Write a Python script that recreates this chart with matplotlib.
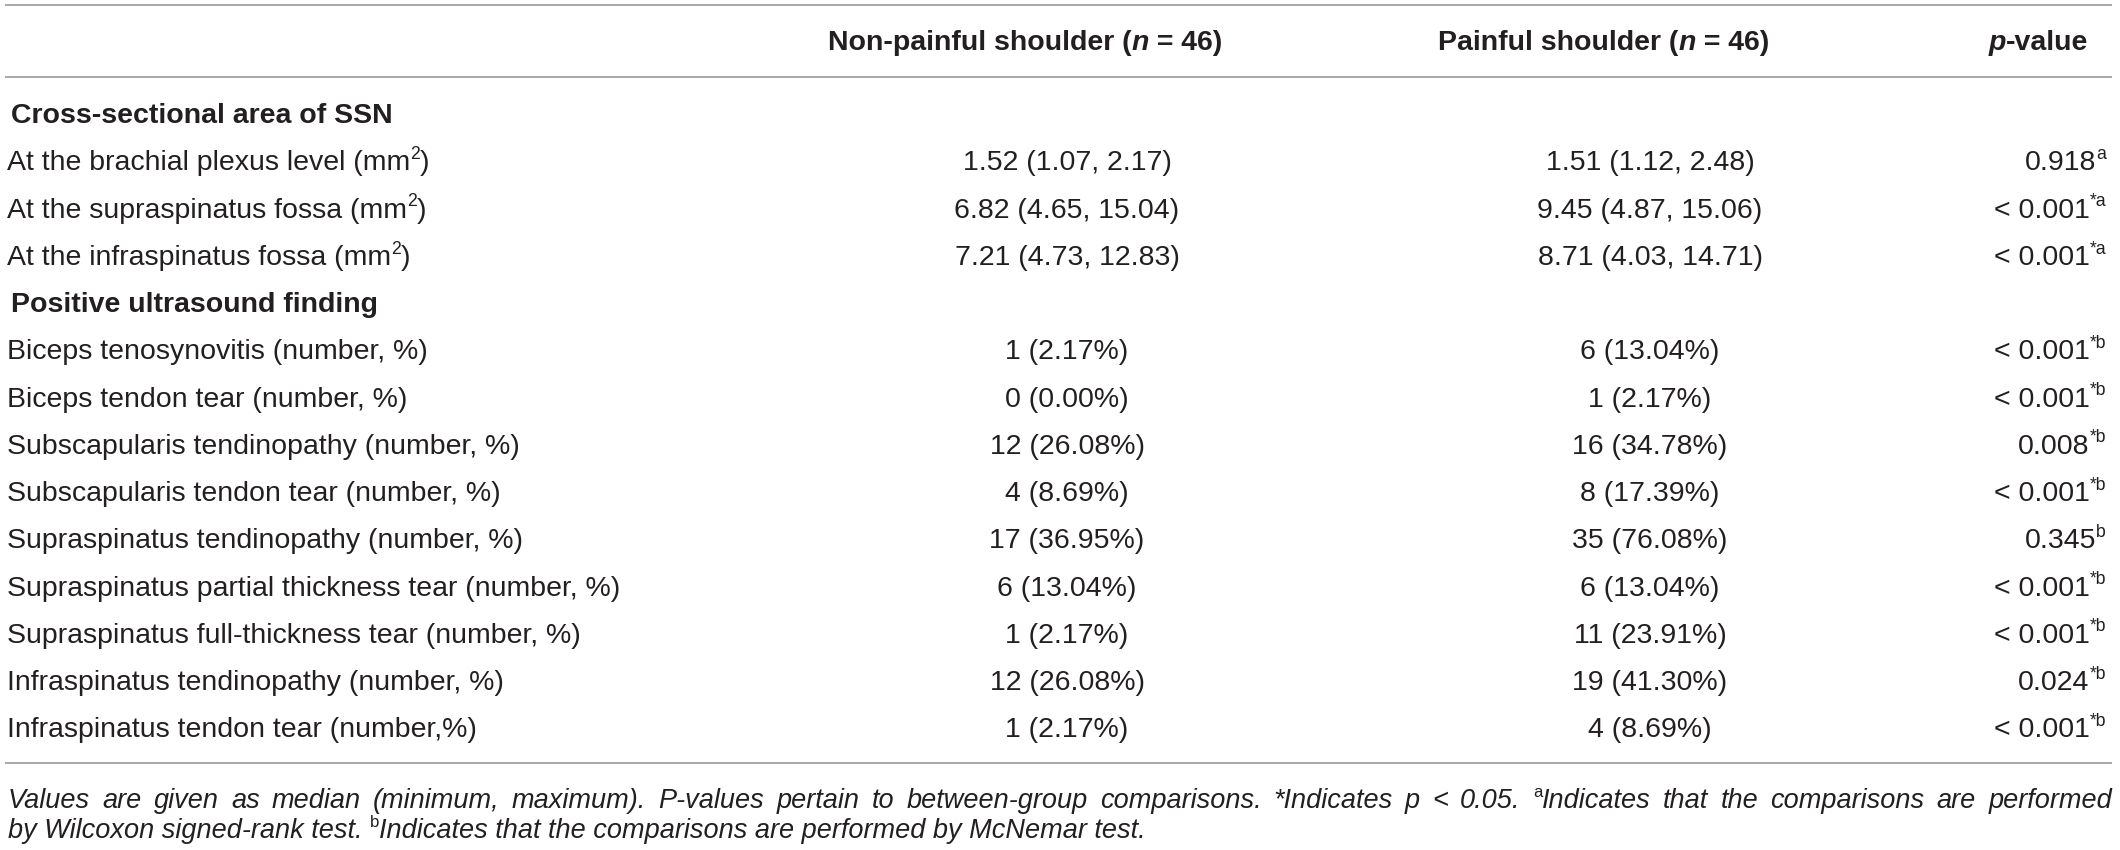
"""Table of ultrasound findings, drawn as text with matplotlib."""
import re

import matplotlib
matplotlib.use("Agg")
import matplotlib.pyplot as plt
from matplotlib import font_manager

# Column headers ({i:..} = italic, {s:..} = superscript)
headers = ["Non-painful shoulder ({i:n} = 46)", "Painful shoulder ({i:n} = 46)", "{i:p}-value"]

# Section 1: cross-sectional area, median (min, max)
section_titles = ["Cross-sectional area of SSN", "Positive ultrasound finding"]
csa_labels = [
    "At the brachial plexus level (mm{s:2})",
    "At the supraspinatus fossa (mm{s:2})",
    "At the infraspinatus fossa (mm{s:2})",
]
csa_non = [(1.52, 1.07, 2.17), (6.82, 4.65, 15.04), (7.21, 4.73, 12.83)]
csa_pain = [(1.51, 1.12, 2.48), (9.45, 4.87, 15.06), (8.71, 4.03, 14.71)]
csa_p = ["0.918{s:a}", "< 0.001{s:*a}", "< 0.001{s:*a}"]

# Section 2: positive findings, number (%)
finding_labels = [
    "Biceps tenosynovitis (number, %)",
    "Biceps tendon tear (number, %)",
    "Subscapularis tendinopathy (number, %)",
    "Subscapularis tendon tear (number, %)",
    "Supraspinatus tendinopathy (number, %)",
    "Supraspinatus partial thickness tear (number, %)",
    "Supraspinatus full-thickness tear (number, %)",
    "Infraspinatus tendinopathy (number, %)",
    "Infraspinatus tendon tear (number,%)",
]
non_counts = [1, 0, 12, 4, 17, 6, 1, 12, 1]
non_pct = [2.17, 0.00, 26.08, 8.69, 36.95, 13.04, 2.17, 26.08, 2.17]
pain_counts = [6, 1, 16, 8, 35, 6, 11, 19, 4]
pain_pct = [13.04, 2.17, 34.78, 17.39, 76.08, 13.04, 23.91, 41.30, 8.69]
finding_p = [
    "< 0.001{s:*b}", "< 0.001{s:*b}", "0.008{s:*b}", "< 0.001{s:*b}",
    "0.345{s:b}", "< 0.001{s:*b}", "< 0.001{s:*b}", "0.024{s:*b}",
    "< 0.001{s:*b}",
]

footnote_lines = [
    "Values are given as median (minimum, maximum). P-values pertain to "
    "between-group comparisons. *Indicates p < 0.05. {s:a}Indicates that "
    "the comparisons are performed",
    "by Wilcoxon signed-rank test. {s:b}Indicates that the comparisons are "
    "performed by McNemar test.",
]

# Styling
W, H = 2120, 850
FONT = "Liberation Sans"
available = {f.name for f in font_manager.fontManager.ttflist}
NOTE_FONT = "Liberation Sans Narrow" if "Liberation Sans Narrow" in available else FONT
BODY = 20.5
SUP = 0.62
INK = "#231f20"
RULE = "#a8a8a8"

fig = plt.figure(figsize=(W / 100, H / 100), dpi=100)
ax = fig.add_axes([0, 0, 1, 1])
ax.set_xlim(0, W)
ax.set_ylim(H, 0)
ax.axis("off")
renderer = fig.canvas.get_renderer()

MARK = re.compile(r"\{([is]):([^}]*)\}")


def parse(s):
    """Split a marked-up string into (text, kind) runs."""
    runs, pos = [], 0
    for m in MARK.finditer(s):
        if m.start() > pos:
            runs.append((s[pos:m.start()], ""))
        runs.append((m.group(2), m.group(1)))
        pos = m.end()
    if pos < len(s):
        runs.append((s[pos:], ""))
    return runs


def text_width(txt, **props):
    """Advance width of txt, spaces included (measured between guards)."""
    t1 = ax.text(0, 0, "X" + txt + "X", **props)
    t2 = ax.text(0, 0, "XX", **props)
    w = t1.get_window_extent(renderer).width - t2.get_window_extent(renderer).width
    t1.remove()
    t2.remove()
    return w


def styled_runs(s, size, weight, style, family):
    items = []
    for txt, kind in parse(s):
        props = dict(family=family, fontsize=size, fontweight=weight,
                     fontstyle=style, color=INK)
        rise = 0.0
        if kind == "i":
            props["fontstyle"] = "italic"
        elif kind == "s":
            props.update(fontsize=size * SUP, fontstyle="normal")
            rise = size * 100 / 72 * 0.40
        items.append((txt, props, rise))
    return items


def draw(x, yc, s, ha="left", size=BODY, weight="normal", style="normal",
         family=FONT, justify=None):
    """Draw marked-up text with its visual centre at row yc."""
    base = yc + 0.36 * size * 100 / 72
    items = styled_runs(s, size, weight, style, family)

    if justify is not None:
        # split into words and spread the spare room between them
        words = [[]]
        for txt, props, rise in items:
            parts = txt.split(" ")
            for k, part in enumerate(parts):
                if k > 0:
                    words.append([])
                if part:
                    words[-1].append((part, props, rise))
        words = [w for w in words if w]
        wws = [sum(text_width(t, **p) for t, p, _ in w) for w in words]
        gap = (justify - sum(wws)) / (len(words) - 1)
        cur = x
        for w, ww in zip(words, wws):
            c = cur
            for t, p, rise in w:
                ax.text(c, base - rise, t, va="baseline", ha="left", **p)
                c += text_width(t, **p)
            cur += ww + gap
        return

    widths = [text_width(t, **p) for t, p, _ in items]
    total = sum(widths)
    cur = {"left": x, "center": x - total / 2, "right": x - total}[ha]
    for (t, p, rise), w in zip(items, widths):
        ax.text(cur, base - rise, t, va="baseline", ha="left", **p)
        cur += w
    return total


def rule(y):
    ax.plot([5, 2112], [y, y], color=RULE, lw=1.4, solid_capstyle="butt")


# Column positions
LABEL_X, SECTION_X = 7, 11
HEAD_X = [1025, 1604, 2088]
VAL_X = [1067, 1650]
P_X = 2106
ROW0, ROW_STEP = 113, 47.23

rule(5)
rule(77)
rule(763)

draw(HEAD_X[0], 40, headers[0], ha="center", weight="bold")
draw(HEAD_X[1], 40, headers[1], ha="center", weight="bold")
draw(HEAD_X[2], 40, headers[2], ha="right", weight="bold")

rows = [("section", section_titles[0], None, None, None)]
for lab, a, b, p in zip(csa_labels, csa_non, csa_pain, csa_p):
    rows.append(("row", lab, "{:.2f} ({:.2f}, {:.2f})".format(*a),
                 "{:.2f} ({:.2f}, {:.2f})".format(*b), p))
rows.append(("section", section_titles[1], None, None, None))
for lab, nc, npct, pc, ppct, p in zip(finding_labels, non_counts, non_pct,
                                       pain_counts, pain_pct, finding_p):
    rows.append(("row", lab, f"{nc} ({npct:.2f}%)", f"{pc} ({ppct:.2f}%)", p))

for i, (kind, lab, v1, v2, p) in enumerate(rows):
    y = ROW0 + i * ROW_STEP
    if kind == "section":
        draw(SECTION_X, y, lab, weight="bold")
        continue
    draw(LABEL_X, y, lab)
    draw(VAL_X[0], y, v1, ha="center")
    draw(VAL_X[1], y, v2, ha="center")
    draw(P_X, y, p, ha="right")

# Footnote: fit the first line to the table width, justify it
NOTE_W = 2104
natural = sum(text_width(t, **pr) for t, pr, _ in
              styled_runs(footnote_lines[0], 18, "normal", "italic", NOTE_FONT))
note_size = min(19.5, 18 * (NOTE_W - 20) / natural)
draw(8, 798, footnote_lines[0], size=note_size, style="italic",
     family=NOTE_FONT, justify=NOTE_W)
draw(8, 828, footnote_lines[1], size=note_size, style="italic", family=NOTE_FONT)

fig.savefig("out.png", dpi=100, facecolor="white")
